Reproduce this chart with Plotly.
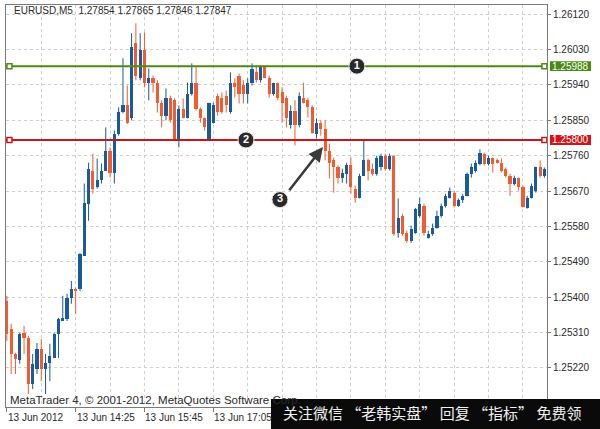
import plotly.graph_objects as go

# ---------------- data ----------------
opens = [1.25390,1.25319,1.25255,1.25240,1.25309,1.25296,1.25179,1.25217,1.25268,1.25217,
         1.25232,1.25245,1.25306,1.25339,1.25344,1.25398,1.25421,1.25421,1.25505,1.25638,
         1.25722,1.25679,1.25697,1.25722,1.25773,1.25717,1.25816,1.25870,1.25888,1.25855,
         1.26046,1.25959,1.26028,1.25944,1.25957,1.25946,1.25895,1.25862,1.25908,1.25901,
         1.25799,1.25880,1.25857,1.25918,1.25946,1.25880,1.25855,1.25799,1.25844,1.25913,
         1.25908,1.25913,1.25870,1.25946,1.25964,1.25939,1.25918,1.25944,1.25972,1.25952,
         1.25985,1.25959,1.25918,1.25944,1.25921,1.25906,1.25837,1.25875,1.25837,1.25908,
         1.25901,1.25883,1.25816,1.25844,1.25829,1.25773,1.25748,1.25730,1.25702,1.25714,
         1.25735,1.25676,1.25653,1.25709,1.25748,1.25727,1.25714,1.25730,1.25760,1.25727,
         1.25760,1.25564,1.25607,1.25564,1.25543,1.25564,1.25607,1.25633,1.25551,1.25561,
         1.25577,1.25607,1.25633,1.25653,1.25666,1.25633,1.25646,1.25658,1.25714,1.25722,
         1.25740,1.25765,1.25740,1.25753,1.25748,1.25742,1.25727,1.25709,1.25689,1.25702,
         1.25679,1.25628,1.25653,1.25671,1.25730,1.25709]
highs = [1.25403,1.25332,1.25258,1.25309,1.25327,1.25301,1.25255,1.25283,1.25293,1.25255,
         1.25281,1.25309,1.25347,1.25403,1.25408,1.25441,1.25424,1.25512,1.25689,1.25742,
         1.25765,1.25753,1.25740,1.25832,1.25781,1.25824,1.25883,1.26008,1.25939,1.26072,
         1.26097,1.26072,1.26074,1.25982,1.25964,1.25952,1.25901,1.25931,1.25913,1.25906,
         1.25888,1.25906,1.25946,1.25995,1.25985,1.25883,1.25857,1.25895,1.25895,1.25918,
         1.25921,1.25926,1.25972,1.25957,1.25969,1.25952,1.25957,1.25995,1.25990,1.25990,
         1.25990,1.25964,1.25946,1.25946,1.25934,1.25913,1.25888,1.25901,1.25921,1.25946,
         1.25908,1.25888,1.25855,1.25850,1.25850,1.25791,1.25755,1.25735,1.25727,1.25742,
         1.25755,1.25684,1.25714,1.25799,1.25753,1.25740,1.25760,1.25765,1.25765,1.25765,
         1.25762,1.25651,1.25612,1.25569,1.25582,1.25627,1.25653,1.25638,1.25569,1.25587,
         1.25620,1.25638,1.25663,1.25679,1.25671,1.25651,1.25663,1.25717,1.25740,1.25748,
         1.25776,1.25768,1.25760,1.25755,1.25753,1.25753,1.25730,1.25714,1.25709,1.25704,
         1.25684,1.25658,1.25689,1.25732,1.25748,1.25730]
lows = [1.25288,1.25204,1.25204,1.25230,1.25255,1.25153,1.25166,1.25204,1.25186,1.25153,
        1.25186,1.25245,1.25245,1.25339,1.25339,1.25383,1.25357,1.25416,1.25505,1.25594,
        1.25663,1.25676,1.25689,1.25722,1.25704,1.25689,1.25811,1.25868,1.25841,1.25850,
        1.25952,1.25952,1.25934,1.25901,1.25921,1.25870,1.25832,1.25850,1.25844,1.25797,
        1.25781,1.25855,1.25855,1.25913,1.25875,1.25844,1.25824,1.25797,1.25842,1.25862,
        1.25867,1.25870,1.25867,1.25908,1.25893,1.25893,1.25893,1.25939,1.25946,1.25946,
        1.25957,1.25908,1.25913,1.25901,1.25844,1.25832,1.25829,1.25786,1.25832,1.25893,
        1.25857,1.25816,1.25804,1.25811,1.25748,1.25702,1.25666,1.25689,1.25691,1.25689,
        1.25663,1.25640,1.25651,1.25709,1.25697,1.25709,1.25709,1.25722,1.25722,1.25722,
        1.25556,1.25551,1.25556,1.25538,1.25538,1.25561,1.25602,1.25556,1.25549,1.25556,
        1.25574,1.25602,1.25628,1.25651,1.25628,1.25630,1.25640,1.25656,1.25704,1.25717,
        1.25735,1.25735,1.25735,1.25717,1.25740,1.25717,1.25704,1.25658,1.25684,1.25671,
        1.25628,1.25625,1.25651,1.25666,1.25704,1.25704]
closes = [1.25306,1.25255,1.25242,1.25306,1.25296,1.25179,1.25230,1.25268,1.25217,1.25232,
          1.25250,1.25306,1.25344,1.25347,1.25398,1.25421,1.25416,1.25510,1.25640,1.25727,
          1.25676,1.25697,1.25722,1.25773,1.25717,1.25816,1.25870,1.25888,1.25844,1.26036,
          1.25964,1.26028,1.25946,1.25957,1.25946,1.25895,1.25862,1.25908,1.25850,1.25799,
          1.25880,1.25857,1.25918,1.25946,1.25880,1.25855,1.25832,1.25893,1.25888,1.25870,
          1.25870,1.25888,1.25946,1.25934,1.25918,1.25918,1.25944,1.25982,1.25952,1.25985,
          1.25959,1.25918,1.25944,1.25908,1.25893,1.25857,1.25875,1.25837,1.25913,1.25895,
          1.25883,1.25819,1.25844,1.25829,1.25773,1.25742,1.25730,1.25702,1.25717,1.25735,
          1.25679,1.25653,1.25709,1.25748,1.25722,1.25714,1.25755,1.25760,1.25727,1.25760,
          1.25561,1.25602,1.25561,1.25543,1.25574,1.25625,1.25638,1.25564,1.25561,1.25577,
          1.25607,1.25633,1.25658,1.25671,1.25633,1.25646,1.25658,1.25714,1.25730,1.25742,
          1.25768,1.25740,1.25755,1.25740,1.25742,1.25722,1.25709,1.25689,1.25702,1.25679,
          1.25630,1.25653,1.25684,1.25730,1.25709,1.25727]

price_ticks = [1.26120, 1.26030, 1.25940, 1.25850, 1.25760, 1.25670,
               1.25580, 1.25490, 1.25400, 1.25310, 1.25220]
date_ticks = [0, 16, 32, 48]
date_labels = ["13 Jun 2012", "13 Jun 14:25", "13 Jun 15:45", "13 Jun 17:05"]

level_prices = [1.25988, 1.25800]
level_colors = ["#4b8a14", "#c8141a"]
level_box_colors = ["#4a8a12", "#d01418"]

# ---------------- style ----------------
UP = "#1a5b9a"
DOWN = "#f25c2e"
GRID = "#cfcfcf"
FRAME = "#7a7a7a"
TXT = "#2a2a2a"
X_RANGE = [-0.2, 125.6]
Y_RANGE = [1.2512, 1.261437]

idx = list(range(len(opens)))
fig = go.Figure()

# wicks
for col, is_up in ((UP, True), (DOWN, False)):
    wx, wy = [], []
    for i in idx:
        if (closes[i] >= opens[i]) == is_up:
            wx += [i, i, None]
            wy += [lows[i], highs[i], None]
    fig.add_trace(go.Scatter(x=wx, y=wy, mode="lines",
                             line=dict(color=col, width=1), hoverinfo="skip",
                             showlegend=False))

# bodies
for col, is_up in ((UP, True), (DOWN, False)):
    bx, bh, bb = [], [], []
    for i in idx:
        if (closes[i] >= opens[i]) == is_up:
            bx.append(i)
            bb.append(min(opens[i], closes[i]))
            bh.append(max(abs(closes[i] - opens[i]), 0.00003))
    fig.add_trace(go.Bar(x=bx, y=bh, base=bb, width=0.74,
                         marker=dict(color=col, line=dict(width=0)),
                         hoverinfo="skip", showlegend=False))

# horizontal levels
for lv, col in zip(level_prices, level_colors):
    fig.add_trace(go.Scatter(x=X_RANGE, y=[lv, lv], mode="lines",
                             line=dict(color=col, width=2), hoverinfo="skip",
                             showlegend=False))
    fig.add_trace(go.Scatter(x=[X_RANGE[0] + 0.8, X_RANGE[1] - 0.6], y=[lv, lv],
                             mode="markers",
                             marker=dict(symbol="square", size=5, color="white",
                                         line=dict(color=col, width=1.5)),
                             cliponaxis=False, hoverinfo="skip", showlegend=False))

# numbered circles
circ_x = [81.4, 55.6, 63.5]
circ_y = [level_prices[0], level_prices[1], 1.25648]
circ_t = ["<b>1</b>", "<b>2</b>", "<b>3</b>"]
fig.add_trace(go.Scatter(x=circ_x, y=circ_y, mode="markers+text", text=circ_t,
                         textposition="middle center",
                         textfont=dict(color="white", size=11, family="Liberation Sans"),
                         marker=dict(size=16, color="#2a2a2a",
                                     line=dict(color="#e8e8e8", width=1)),
                         hoverinfo="skip", showlegend=False))

annotations = []
shapes = []

# arrow
annotations.append(dict(x=73.5, y=1.25782, ax=65.4, ay=1.25668, xref="x", yref="y",
                        axref="x", ayref="y", showarrow=True, arrowhead=2,
                        arrowsize=1.1, arrowwidth=2.6, arrowcolor="#3a3a3a", text=""))

# level price boxes on the axis
for lv, col in zip(level_prices, level_box_colors):
    shapes.append(dict(type="rect", xref="paper", yref="y", x0=1.0055, x1=1.0813,
                       y0=lv - 0.000125, y1=lv + 0.000125,
                       fillcolor=col, line=dict(width=0), layer="above"))
    annotations.append(dict(x=1.0434, y=lv, xref="paper", yref="y", text=f"{lv:.5f}",
                            showarrow=False, xanchor="center", yanchor="middle",
                            font=dict(color="white", size=10)))

# date labels
for t, lab in zip(date_ticks, date_labels):
    annotations.append(dict(x=t, y=-0.0261, xref="x", yref="paper", text=lab,
                            showarrow=False, xanchor="left", yanchor="middle",
                            xshift=-1, font=dict(size=10, color=TXT)))

# header and copyright
annotations.append(dict(x=0.0111, y=0.9863, xref="paper", yref="paper",
                        text="EURUSD,M5\u00a0\u00a01.27854 1.27865 1.27846 1.27847",
                        showarrow=False, xanchor="left", yanchor="middle",
                        font=dict(size=10, color=TXT)))
annotations.append(dict(x=0.0037, y=0.0174, xref="paper", yref="paper",
                        text="MetaTrader 4, © 2001-2012, MetaQuotes Software Corp.",
                        showarrow=False, xanchor="left", yanchor="middle",
                        font=dict(size=11.5, color=TXT)))

# black banner at the bottom
shapes.append(dict(type="rect", xref="paper", yref="paper", x0=0.4898, x1=1.11,
                   y0=-0.07, y1=0.0199, fillcolor="#0a0a0a", line=dict(width=0),
                   layer="above"))
annotations.append(dict(x=0.788, y=-0.0137, xref="paper", yref="paper",
                        text="关注微信 “老韩实盘” 回复 “指标” 免费领",
                        showarrow=False, xanchor="center", yanchor="middle",
                        font=dict(size=15, color="#f0f0f0", family="Noto Sans CJK SC")))

fig.update_layout(
    width=600, height=429,
    margin=dict(l=6, r=53, t=5, b=22, autoexpand=False),
    paper_bgcolor="white", plot_bgcolor="white",
    font=dict(family="Liberation Sans", size=10, color=TXT),
    barmode="overlay", bargap=0, hovermode=False, showlegend=False,
    shapes=shapes, annotations=annotations,
    xaxis=dict(range=X_RANGE, tickmode="array", tickvals=date_ticks,
               showticklabels=False, ticks="outside", ticklen=4, tickcolor=FRAME,
               showgrid=True, gridcolor=GRID, griddash="dot", gridwidth=1,
               minor=dict(tickmode="linear", tick0=0, dtick=8, showgrid=True,
                          gridcolor=GRID, griddash="dot", ticks=""),
               zeroline=False, showline=True, linecolor=FRAME, linewidth=1, mirror=True),
    yaxis=dict(range=Y_RANGE, side="right", tickmode="array", tickvals=price_ticks,
               ticktext=[f"{v:.5f}" for v in price_ticks],
               ticks="outside", ticklen=3, tickcolor=FRAME,
               tickfont=dict(size=10, color=TXT),
               showgrid=True, gridcolor=GRID, griddash="dot", gridwidth=1,
               zeroline=False, showline=True, linecolor=FRAME, linewidth=1, mirror=True),
)

fig.write_html("out.html",
               config={"displayModeBar": False, "staticPlot": True},
               post_script="document.body.style.margin='0px';"
                           "document.body.style.overflow='hidden';")
